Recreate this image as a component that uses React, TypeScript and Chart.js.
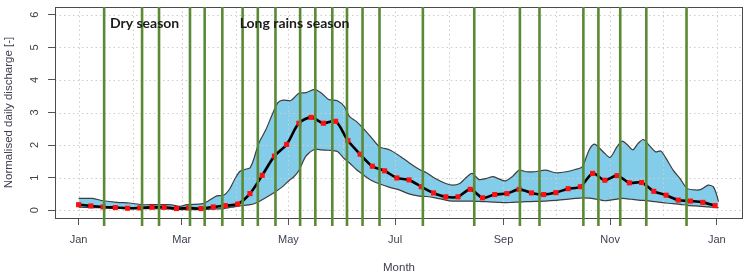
import { useEffect, useRef } from 'react';
import { Chart, registerables } from 'chart.js';

Chart.register(...registerables);

// Day of year (0 = 1 January) of the weekly mean markers
const weekDays = [
  0, 7, 14, 21, 28, 35, 42, 49, 56, 63, 70, 77, 84, 91, 98, 105, 112, 119, 126, 133,
  140, 147, 154, 161, 168, 175, 182, 189, 196, 203, 210, 217, 224, 231, 238, 245, 252,
  259, 266, 273, 280, 287, 294, 301, 308, 315, 322, 329, 336, 343, 350, 357, 364,
];

// Mean normalised daily discharge at each weekly marker
const meanDischarge = [
  0.17, 0.13, 0.1, 0.08, 0.06, 0.07, 0.09, 0.09, 0.05, 0.07, 0.05, 0.1, 0.14, 0.19, 0.51,
  1.07, 1.66, 2.02, 2.67, 2.85, 2.67, 2.73, 2.14, 1.72, 1.35, 1.21, 0.99, 0.93, 0.72, 0.53,
  0.41, 0.41, 0.64, 0.38, 0.48, 0.51, 0.64, 0.53, 0.48, 0.54, 0.66, 0.72, 1.13, 0.92, 1.06,
  0.84, 0.85, 0.58, 0.46, 0.31, 0.28, 0.24, 0.14,
];

// Days at which the spread envelope is given
const bandDays = [
  0, 8, 14, 22, 29, 36, 43, 52, 58, 62, 71, 75, 79, 83, 86, 89, 92, 95, 98, 100, 103, 107,
  111, 114, 117, 121, 123, 126, 130, 135, 139, 143, 148, 152, 155, 159, 162, 167, 172, 178,
  183, 189, 195, 199, 204, 210, 214, 218, 221, 225, 229, 233, 237, 240, 244, 248, 252, 256,
  261, 267, 273, 279, 284, 288, 292, 295, 298, 301, 304, 308, 311, 314, 317, 320, 323, 327,
  330, 333, 336, 340, 344, 348, 353, 356, 360, 363, 365, 366,
];

// Upper edge of the envelope
const bandUpper = [
  0.36, 0.36, 0.29, 0.24, 0.22, 0.17, 0.17, 0.17, 0.12, 0.17, 0.2, 0.31, 0.44, 0.46, 0.62,
  0.92, 1.18, 1.25, 1.3, 1.54, 2.05, 2.46, 2.97, 3.3, 3.38, 3.36, 3.44, 3.59, 3.61, 3.71,
  3.59, 3.4, 3.36, 3.18, 2.87, 2.72, 2.56, 2.26, 1.95, 1.85, 1.69, 1.46, 1.25, 1.15, 0.97,
  0.82, 0.77, 0.82, 0.97, 1.13, 0.94, 0.97, 1.03, 0.97, 0.9, 1.03, 1.23, 1.18, 1.18, 1.23,
  1.15, 1.18, 1.25, 1.33, 1.85, 2.03, 1.9, 1.74, 1.62, 1.95, 2.12, 2.0, 1.85, 2.05, 2.17,
  1.95, 1.79, 1.82, 1.59, 1.23, 0.97, 0.67, 0.62, 0.64, 0.77, 0.72, 0.46, 0.26,
];

// Lower edge of the envelope
const bandLower = [
  0.09, 0.08, 0.07, 0.06, 0.05, 0.05, 0.05, 0.04, 0.02, 0.02, 0.02, 0.03, 0.04, 0.05, 0.08,
  0.1, 0.13, 0.15, 0.17, 0.19, 0.26, 0.38, 0.51, 0.62, 0.74, 0.94, 1.02, 1.22, 1.66, 1.87,
  1.85, 1.84, 1.8, 1.58, 1.45, 1.24, 1.12, 0.93, 0.81, 0.7, 0.63, 0.5, 0.43, 0.42, 0.38,
  0.31, 0.28, 0.28, 0.28, 0.28, 0.27, 0.26, 0.25, 0.24, 0.23, 0.24, 0.25, 0.26, 0.27, 0.28,
  0.3, 0.33, 0.36, 0.38, 0.37, 0.35, 0.32, 0.29, 0.31, 0.34, 0.36, 0.35, 0.33, 0.31, 0.3,
  0.28, 0.26, 0.24, 0.22, 0.2, 0.18, 0.15, 0.13, 0.12, 0.1, 0.09, 0.08, 0.08,
];

// Axis ticks, labels and grid positions
const monthStartDays = [0, 31, 59, 90, 120, 151, 181, 212, 243, 273, 304, 334, 365];
const tickDays = [0, 59, 120, 181, 243, 304, 365];
const tickLabels = ['Jan', 'Mar', 'May', 'Jul', 'Sep', 'Nov', 'Jan'];
const yTicks = [0, 1, 2, 3, 4, 5, 6];

// Boundaries between the periods (day of year)
const periodBoundaries = [
  14.6, 36.3, 46.0, 63.7, 72.1, 82.2, 93.8, 102.5, 112.6, 126.7, 135.4, 145.1, 153.5,
  162.4, 172.1, 196.9, 226.3, 252.4, 263.6, 288.7, 297.3, 309.8, 324.7, 347.7,
];

// Season annotations
const seasonLabels = ['Dry season', 'Long rains season'];
const seasonLabelDays = [17.9, 92.1];
const seasonLabelLevel = 5.72;

const AXIS_FONT = '"Liberation Sans", Arial, sans-serif';
const AXIS_TEXT = '#3e3e50';

const framePlugin = {
  id: 'frame',
  beforeDatasetsDraw(chart: any) {
    const { ctx, chartArea: a, scales } = chart;
    const x = scales.x;
    const y = scales.y;
    ctx.save();
    ctx.strokeStyle = '#cdcdcd';
    ctx.lineWidth = 1;
    ctx.setLineDash([1.5, 3]);
    ctx.beginPath();
    for (const d of monthStartDays) {
      const px = Math.round(x.getPixelForValue(d)) + 0.5;
      ctx.moveTo(px, a.top);
      ctx.lineTo(px, a.bottom);
    }
    for (const v of yTicks) {
      const py = Math.round(y.getPixelForValue(v)) + 0.5;
      ctx.moveTo(a.left, py);
      ctx.lineTo(a.right, py);
    }
    ctx.stroke();
    ctx.restore();
  },
  afterDraw(chart: any) {
    const { ctx, chartArea: a, scales } = chart;
    const x = scales.x;
    const y = scales.y;
    ctx.save();
    // y tick labels, written parallel to the axis
    ctx.fillStyle = AXIS_TEXT;
    ctx.font = `11px ${AXIS_FONT}`;
    ctx.textAlign = 'center';
    ctx.textBaseline = 'middle';
    for (const v of yTicks) {
      ctx.save();
      ctx.translate(a.left - 20, y.getPixelForValue(v));
      ctx.rotate(-Math.PI / 2);
      ctx.fillText(String(v), 0, 0);
      ctx.restore();
    }
    // plot box
    ctx.strokeStyle = '#4a4a4a';
    ctx.lineWidth = 1;
    ctx.strokeRect(Math.round(a.left) + 0.5, Math.round(a.top) + 0.5, Math.round(a.right - a.left) - 1, Math.round(a.bottom - a.top));
    // period boundaries
    ctx.strokeStyle = '#5b8a35';
    ctx.lineWidth = 2.6;
    ctx.beginPath();
    for (const d of periodBoundaries) {
      const px = x.getPixelForValue(d);
      ctx.moveTo(px, a.top);
      ctx.lineTo(px, a.bottom + 8);
    }
    ctx.stroke();
    // season names
    ctx.fillStyle = '#1c1c1c';
    ctx.font = 'bold 14px Lato, "Open Sans", sans-serif';
    ctx.textBaseline = 'middle';
    ctx.textAlign = 'left';
    seasonLabels.forEach((t, i) => {
      ctx.fillText(t, x.getPixelForValue(seasonLabelDays[i]), y.getPixelForValue(seasonLabelLevel));
    });
    ctx.restore();
  },
};

export default function App() {
  const ref = useRef<HTMLCanvasElement>(null);

  useEffect(() => {
    const canvas = ref.current;
    if (!canvas) return;
    const chart = new Chart(canvas, {
      type: 'line',
      data: {
        datasets: [
          {
            label: 'Mean',
            data: weekDays.map((d, i) => ({ x: d, y: meanDischarge[i] })),
            borderColor: '#000000',
            borderWidth: 2.6,
            tension: 0.3,
            pointStyle: 'rect',
            pointRadius: 3.6,
            pointBackgroundColor: '#ff1010',
            pointBorderWidth: 0,
            fill: false,
          },
          {
            label: 'Upper',
            data: bandDays.map((d, i) => ({ x: d, y: bandUpper[i] })),
            borderColor: '#3d3d3d',
            borderWidth: 1.2,
            tension: 0.25,
            pointRadius: 0,
            fill: false,
          },
          {
            label: 'Lower',
            data: bandDays.map((d, i) => ({ x: d, y: bandLower[i] })),
            borderColor: '#3d3d3d',
            borderWidth: 1.2,
            tension: 0.25,
            pointRadius: 0,
            backgroundColor: '#84cdea',
            fill: '-1',
          },
        ],
      },
      options: {
        animation: false,
        responsive: false,
        devicePixelRatio: 1,
        events: [],
        layout: { padding: { top: 7, right: 2, left: 0, bottom: 0 } },
        plugins: {
          legend: { display: false },
          tooltip: { enabled: false },
          filler: { drawTime: 'beforeDatasetsDraw' },
        },
        scales: {
          x: {
            type: 'linear',
            min: -13.5,
            max: 380,
            afterBuildTicks: (s: any) => {
              s.ticks = tickDays.map((v) => ({ value: v }));
            },
            afterFit: (s: any) => {
              s.height = 55;
            },
            grid: { drawOnChartArea: false, drawTicks: true, tickLength: 7, tickColor: '#555555', color: '#555555' },
            border: { display: false },
            ticks: {
              autoSkip: false,
              maxRotation: 0,
              padding: 8,
              color: AXIS_TEXT,
              font: { family: AXIS_FONT, size: 11 },
              callback: (_v: any, i: number) => tickLabels[i],
            },
            title: {
              display: true,
              text: 'Month',
              color: AXIS_TEXT,
              font: { family: AXIS_FONT, size: 11.5, lineHeight: 1 },
              padding: { top: 0, bottom: -1 },
            },
          },
          y: {
            type: 'linear',
            min: -0.24,
            max: 6.24,
            afterBuildTicks: (s: any) => {
              s.ticks = yTicks.map((v) => ({ value: v }));
            },
            afterFit: (s: any) => {
              s.width = 55;
            },
            grid: { drawOnChartArea: false, drawTicks: true, tickLength: 7, tickColor: '#555555', color: '#555555' },
            border: { display: false },
            ticks: { display: false },
            title: {
              display: true,
              text: 'Normalised daily discharge [-]',
              color: AXIS_TEXT,
              font: { family: AXIS_FONT, size: 11.5, lineHeight: 1 },
              padding: { top: 3.5, bottom: 0 },
            },
          },
        },
      },
      plugins: [framePlugin],
    } as any);
    return () => chart.destroy();
  }, []);

  return (
    <div style={{ position: 'fixed', left: 0, top: 0, width: 747, height: 273, background: '#ffffff' }}>
      <canvas ref={ref} width={747} height={273} style={{ display: 'block', width: 747, height: 273 }} />
    </div>
  );
}
